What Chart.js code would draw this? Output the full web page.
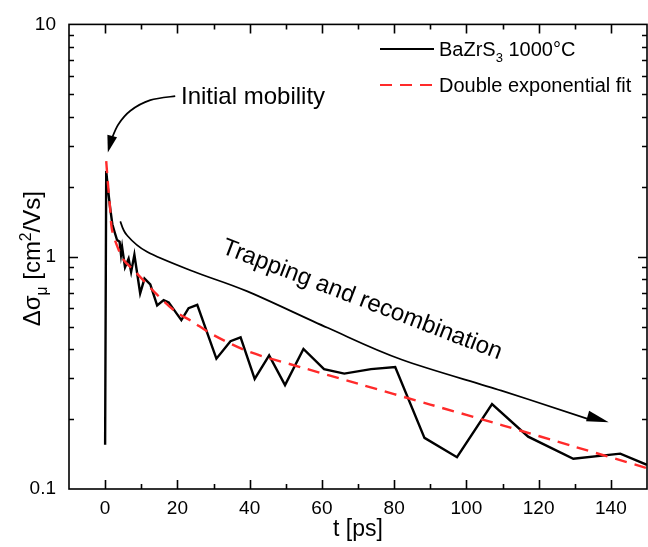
<!DOCTYPE html>
<html>
<head>
<meta charset="utf-8">
<script src="https://cdn.jsdelivr.net/npm/chart.js@4.4.0/dist/chart.umd.min.js"></script>
<style>
html,body{margin:0;padding:0;background:#fff;}
#wrap{width:648px;height:547px;}
</style>
</head>
<body>
<div id="wrap"><canvas id="c" width="648" height="547"></canvas></div>
<script>
// ---- data ----
const tMeasured = [0, 0.3, 0.8, 1.4, 2.0, 2.6, 3.3, 4.0, 4.4, 4.7, 5.5, 6.5, 7.2, 8.1, 9.7, 10.9, 12.5, 14.4, 16.2, 17.6, 21.1, 23.1, 25.5, 30.8, 34.7, 37.5, 41.4, 45.4, 49.8, 54.9, 60.6, 66.2, 73.6, 80.3, 88.4, 97.4, 107.1, 117.1, 129.6, 142.6, 150];
const vMeasured = [0.155, 2.34, 1.95, 1.62, 1.38, 1.28, 1.18, 1.16, 1.02, 1.10, 0.90, 0.98, 0.86, 1.02, 0.695, 0.805, 0.76, 0.617, 0.65, 0.636, 0.533, 0.60, 0.62, 0.364, 0.433, 0.45, 0.298, 0.376, 0.280, 0.401, 0.328, 0.314, 0.328, 0.335, 0.166, 0.137, 0.232, 0.168, 0.135, 0.142, 0.127];
const tFit = [0.3, 0.75, 1.4, 1.85, 3.2, 5.1, 8.3, 14.3, 19.4, 24, 30, 40, 54, 70, 90, 110, 130, 150];
const vFit = [2.58, 2.09, 1.60, 1.32, 1.125, 0.97, 0.863, 0.688, 0.582, 0.527, 0.46, 0.389, 0.335, 0.284, 0.231, 0.188, 0.152, 0.123];
const xTickLabels = [0, 20, 40, 60, 80, 100, 120, 140];
const yTickLabels = [0.1, 1, 10];
const seriesLabels = ['BaZrS_{3} 1000°C', 'Double exponential fit'];
const xTitle = 't [ps]';
const yTitle = 'Δσ_{μ} [cm^{2}/Vs]';
const noteInitial = 'Initial mobility';
const noteTrapping = 'Trapping and recombination';
// annotation arrow paths in data coordinates (t, value)
const arrowInitialT = [19.4, 12.5, 7.0, 3.6, 1.6, 0.75];
const arrowInitialV = [4.91, 4.72, 4.25, 3.7, 3.15, 2.81];
const arrowTrapT = [4.2, 6, 11.6, 24.5, 39.4, 61.6, 82, 109.7, 133.8, 139.4];
const arrowTrapV = [1.42, 1.24, 1.05, 0.863, 0.709, 0.494, 0.361, 0.265, 0.20, 0.194];

const FONT = "'Liberation Sans', Arial, Helvetica, sans-serif";

function parseRich(s){
  const parts=[]; const re=/(_\{[^}]*\}|\^\{[^}]*\})/g; let last=0, m;
  while((m=re.exec(s))){
    if(m.index>last) parts.push({t:s.slice(last,m.index)});
    parts.push({t:m[0].slice(2,-1), sub:m[0][0]==='_', sup:m[0][0]==='^'});
    last=re.lastIndex;
  }
  if(last<s.length) parts.push({t:s.slice(last)});
  return parts;
}
function richWidth(ctx, parts, size){
  let w=0;
  for(const p of parts){ ctx.font=((p.sub||p.sup)?size*0.65:size)+'px '+FONT; w+=ctx.measureText(p.t).width; }
  return w;
}
function drawRich(ctx, s, x, y, size){ // baseline at y, left at x
  const parts=parseRich(s); let cx=x;
  for(const p of parts){
    const sz=(p.sub||p.sup)?size*0.65:size;
    ctx.font=sz+'px '+FONT;
    const dy=p.sub?size*0.28:(p.sup?-size*0.38:0);
    ctx.fillText(p.t,cx,y+dy);
    cx+=ctx.measureText(p.t).width;
  }
  return cx-x;
}

const decor = {
  id:'decor',
  afterDraw(chart){
    const ctx=chart.ctx, a=chart.chartArea, xs=chart.scales.x, ys=chart.scales.y;
    ctx.save();
    ctx.strokeStyle='#000'; ctx.fillStyle='#000'; ctx.lineWidth=1.6;
    // frame
    ctx.strokeRect(a.left, a.top, a.right-a.left, a.bottom-a.top);
    // x ticks inward, bottom and top
    ctx.beginPath();
    for(let t=-10;t<=150;t+=10){
      const px=Math.round(xs.getPixelForValue(t))+0.5;
      if(px<=a.left+1||px>=a.right-1) continue;
      const L=(t%20===0)?9:5;
      ctx.moveTo(px,a.bottom); ctx.lineTo(px,a.bottom-L);
      ctx.moveTo(px,a.top); ctx.lineTo(px,a.top+L);
    }
    // y ticks inward, left and right
    for(let d=0.1; d<10; d*=10){
      for(let k=1;k<=10;k++){
        const v=d*k; const py=Math.round(ys.getPixelForValue(v))+0.5;
        if(py<=a.top+1||py>=a.bottom-1) continue;
        const L=(k===1||k===10)?9:5;
        ctx.moveTo(a.left,py); ctx.lineTo(a.left+L,py);
        ctx.moveTo(a.right,py); ctx.lineTo(a.right-L,py);
      }
    }
    ctx.stroke();

    // axis titles
    ctx.textBaseline='alphabetic';
    ctx.font='23px '+FONT;
    const xw=ctx.measureText(xTitle).width;
    ctx.fillText(xTitle,(a.left+a.right)/2-xw/2,536);
    ctx.save();
    ctx.translate(40,(a.top+a.bottom)/2+2);
    ctx.rotate(-Math.PI/2);
    const yw=richWidth(ctx,parseRich(yTitle),24);
    drawRich(ctx,yTitle,-yw/2,0,24);
    ctx.restore();

    // legend
    const ds=chart.data.datasets;
    const legY=[49,85];
    ds.forEach((d,i)=>{
      ctx.save();
      ctx.strokeStyle=d.borderColor; ctx.lineWidth=2.2;
      ctx.setLineDash(d.borderDash||[]);
      ctx.beginPath(); ctx.moveTo(380,legY[i]); ctx.lineTo(434,legY[i]); ctx.stroke();
      ctx.restore();
      ctx.fillStyle='#000';
      drawRich(ctx,seriesLabels[i],439,legY[i]+7,20);
    });

    // curved arrows
    function path(T,V){ return T.map((t,i)=>[xs.getPixelForValue(t), ys.getPixelForValue(V[i])]); }
    function smooth(pts){
      ctx.beginPath(); ctx.moveTo(pts[0][0],pts[0][1]);
      for(let i=0;i<pts.length-1;i++){
        const p0=pts[Math.max(0,i-1)], p1=pts[i], p2=pts[i+1], p3=pts[Math.min(pts.length-1,i+2)];
        const c1=[p1[0]+(p2[0]-p0[0])/6, p1[1]+(p2[1]-p0[1])/6];
        const c2=[p2[0]-(p3[0]-p1[0])/6, p2[1]-(p3[1]-p1[1])/6];
        ctx.bezierCurveTo(c1[0],c1[1],c2[0],c2[1],p2[0],p2[1]);
      }
      ctx.stroke();
    }
    function head(tip, from, len, half){
      const dx=tip[0]-from[0], dy=tip[1]-from[1], L=Math.hypot(dx,dy);
      const ux=dx/L, uy=dy/L;
      const bx=tip[0]-ux*len, by=tip[1]-uy*len;
      ctx.beginPath(); ctx.moveTo(tip[0],tip[1]);
      ctx.lineTo(bx-uy*half, by+ux*half); ctx.lineTo(bx+uy*half, by-ux*half); ctx.closePath(); ctx.fill();
    }
    ctx.lineWidth=1.7;
    const p1=path(arrowInitialT,arrowInitialV);
    smooth(p1.slice(0,-1));
    head(p1[p1.length-1], p1[p1.length-2], 17, 5);
    const p2=path(arrowTrapT,arrowTrapV);
    smooth(p2.slice(0,-1));
    head(p2[p2.length-1], p2[p2.length-3], 22, 5.5);

    // annotation texts
    ctx.font='24px '+FONT; ctx.fillStyle='#000';
    ctx.textBaseline='middle';
    ctx.fillText(noteInitial,181,97);
    ctx.save();
    ctx.translate(362,300); ctx.rotate(21*Math.PI/180);
    ctx.textAlign='center';
    ctx.fillText(noteTrapping,0,0);
    ctx.restore();
    ctx.restore();
  }
};

new Chart(document.getElementById('c'),{
  type:'line',
  data:{datasets:[
    {label:seriesLabels[0], data:tMeasured.map((t,i)=>({x:t,y:vMeasured[i]})), borderColor:'#000000', borderWidth:2.4, pointRadius:0, tension:0, fill:false, order:2},
    {label:seriesLabels[1], data:tFit.map((t,i)=>({x:t,y:vFit[i]})), borderColor:'#ff2a2a', borderWidth:2.4, borderDash:[12,8], pointRadius:0, tension:0.3, fill:false, order:1}
  ]},
  options:{
    responsive:false, animation:false,
    layout:{padding:{top:21,right:1,left:0,bottom:0}},
    plugins:{legend:{display:false}, tooltip:{enabled:false}},
    scales:{
      x:{type:'linear', min:-10, max:150,
        afterBuildTicks(s){ s.ticks=xTickLabels.map(v=>({value:v})); },
        afterFit(s){ s.height=58; },
        grid:{display:false, drawTicks:false}, border:{display:false},
        ticks:{color:'#000', font:{family:FONT, size:19}, padding:8, maxRotation:0, autoSkip:false}
      },
      y:{type:'logarithmic', min:0.1, max:10,
        afterBuildTicks(s){ s.ticks=yTickLabels.map(v=>({value:v})); },
        afterFit(s){ s.width=69; },
        grid:{display:false, drawTicks:false}, border:{display:false},
        ticks:{color:'#000', font:{family:FONT, size:19}, padding:13, autoSkip:false, callback:(v)=>String(v)}
      }
    }
  },
  plugins:[decor]
});
</script>
</body>
</html>
